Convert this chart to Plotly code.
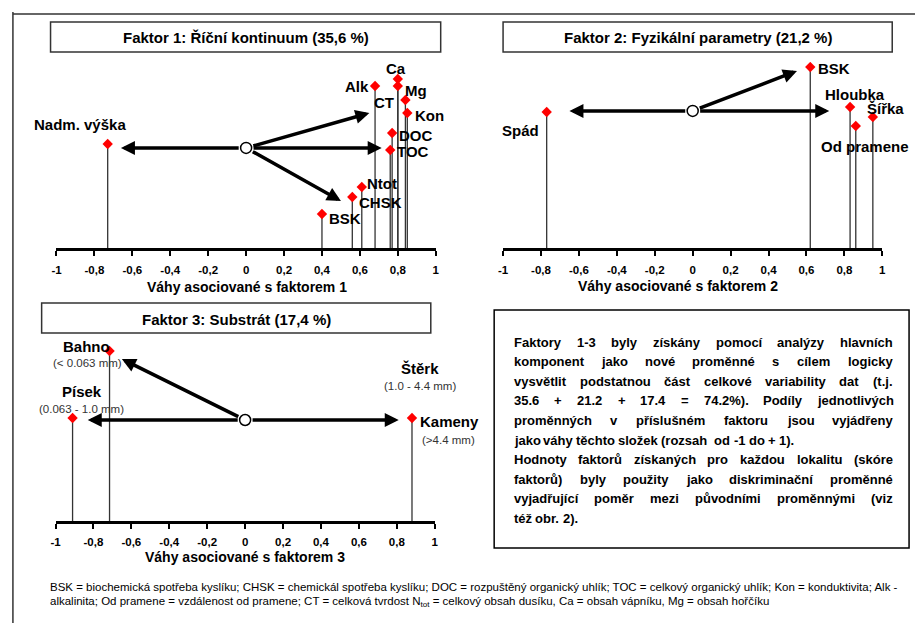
import math
import plotly.graph_objects as go

W, H = 919, 623

# ---------------- data ----------------
TICK_VALUES = [-1, -0.8, -0.6, -0.4, -0.2, 0, 0.2, 0.4, 0.6, 0.8, 1]
TICK_LABELS = ["-1", "-0,8", "-0,6", "-0,4", "-0,2", "0", "0,2", "0,4", "0,6", "0,8", "1"]

F1_TITLE = "Faktor 1: Říční kontinuum (35,6 %)"
F1_AXIS = "Váhy asociované s faktorem 1"
F1_NAMES = ["Nadm. výška", "BSK", "CHSK", "Ntot", "Alk", "Ca", "Mg", "CT", "Kon", "DOC", "TOC"]
F1_LOADINGS = [-0.73, 0.40, 0.56, 0.61, 0.68, 0.80, 0.80, 0.84, 0.85, 0.77, 0.76]
F1_LEVELS = [5.59, 1.83, 2.74, 3.28, 8.71, 9.09, 8.71, 7.96, 7.26, 6.18, 5.27]
F1_ORIGIN_Y = 5.38
F1_ARROW_X = [-0.66, 0.715, 0.65, 0.50]
F1_ARROW_Y = [5.38, 5.38, 7.26, 2.53]

F2_TITLE = "Faktor 2: Fyzikální parametry (21,2 %)"
F2_AXIS = "Váhy asociované s faktorem 2"
F2_NAMES = ["Spád", "BSK", "Hloubka", "Od pramene", "Šířka"]
F2_LOADINGS = [-0.77, 0.62, 0.83, 0.86, 0.95]
F2_LEVELS = [7.31, 9.73, 7.58, 6.56, 7.04]
F2_ORIGIN_Y = 7.37
F2_ARROW_X = [-0.65, 0.72, 0.55]
F2_ARROW_Y = [7.37, 7.37, 9.52]

F3_TITLE = "Faktor 3: Substrát (17,4 %)"
F3_AXIS = "Váhy asociované s faktorem 3"
F3_NAMES = ["Bahno", "Písek", "Kameny"]
F3_SIZES = ["(< 0.063 mm)", "(0.063 - 1.0 mm)", "(>4.4 mm)"]
F3_LOADINGS = [-0.715, -0.91, 0.88]
F3_LEVELS = [9.14, 5.54, 5.54]
F3_EXTRA_NAME = "Štěrk"
F3_EXTRA_SIZE = "(1.0 - 4.4 mm)"
F3_ORIGIN_Y = 5.43
F3_ARROW_X = [-0.83, 0.81, -0.65]
F3_ARROW_Y = [5.43, 5.43, 8.71]

NOTE_LINES = [
    ["Faktory", "1-3", "byly", "získány", "pomocí", "analýzy", "hlavních"],
    ["komponent", "jako", "nové", "proměnné", "s", "cílem", "logicky"],
    ["vysvětlit", "podstatnou", "část", "celkové", "variability", "dat", "(t.j."],
    ["35.6", "+", "21.2", "+", "17.4", "=", "74.2%).", "Podíly", "jednotlivých"],
    ["proměnných", "v", "příslušném", "faktoru", "jsou", "vyjádřeny"],
    ["jako", "váhy", "těchto", "složek", "(rozsah", " od", "-1", "do", "+", "1)."],
    ["Hodnoty", "faktorů", "získaných", "pro", "každou", "lokalitu", "(skóre"],
    ["faktorů)", "byly", "použity", "jako", "diskriminační", "proměnné"],
    ["vyjadřující", "poměr", "mezi", "původními", "proměnnými", "(viz"],
    ["též", "obr.", "2)."],
]
NOTE_JUSTIFIED = [True, True, True, True, True, False, True, True, True, False]

FOOTNOTE = [
    "BSK = biochemická spotřeba kyslíku; CHSK = chemickál spotřeba kyslíku; DOC = rozpuštěný organický uhlík; "
    "TOC = celkový organický uhlík; Kon = konduktivita; Alk -",
    "alkalinita; Od pramene = vzdálenost od pramene; CT = celková tvrdost N<sub>tot</sub> = celkový obsah dusíku, "
    "Ca = obsah vápníku, Mg = obsah hořčíku",
]

# ---------------- styles / layout ----------------
FONT = "Liberation Sans, Arial, sans-serif"
PANELS = {
    1: dict(x0=52, x1=435, y0=62, y1=248, standoff=4),
    2: dict(x0=503, x1=886, y0=62, y1=248, standoff=4),
    3: dict(x0=51, x1=434, y0=335, y1=521, standoff=3),
}
YMAX = 10.0

# label placement: (xanchor, dx px, dy px downward)
F1_LABEL_POS = [("center", -28, -20), ("left", 5, 5), ("left", 5, 5), ("left", 3, -3),
                ("right", -4, 1), ("center", -2, -10), ("left", 5, 5), ("right", -9, 3),
                ("left", 6, 3), ("left", 5, 2), ("left", 5, 2)]
F2_LABEL_POS = [("center", -26, 18), ("left", 6, 1), ("center", 5, -13),
                ("center", 9, 21), ("center", 13, -9)]
F3_LABEL_POS = [("center", -23, -5), ("center", 9, -26), ("left", 6, 4)]
F3_SIZE_POS = [("center", -22, 12), ("center", 9, -9), ("center", 37, 22)]
F3_EXTRA_POS = [("center", 8, -49), ("center", 8, -32)]

TITLE_BOXES = {1: (46, 22, 440, 52, 243, 38), 2: (503, 22, 896, 52, 700, 38), 3: (37, 303, 430, 333, 234, 320)}
AXIS_TITLE_POS = {1: (244, 287), 2: (680, 286), 3: (242, 557)}
NOTE_BOX = (494, 310, 913, 548)
NOTE_LEFT, NOTE_RIGHT, NOTE_TOP, NOTE_STEP = 513, 895, 342, 19.6


def px(x):
    return x / W


def py(y):
    return 1 - y / H


BOLD_W = {' ': 278, '!': 333, '%': 889, '(': 333, ')': 333, '+': 584, ',': 278, '-': 333, '.': 278,
          ':': 333, ';': 333, '=': 584}
for d in "0123456789":
    BOLD_W[d] = 556
BOLD_W.update(dict(zip("ABCDEFGHIJKLMNOPQRSTUVWXYZ",
                       [722, 722, 722, 722, 667, 611, 778, 722, 278, 556, 722, 611, 833, 722, 778, 667,
                        778, 722, 667, 611, 722, 667, 944, 667, 667, 611])))
BOLD_W.update(dict(zip("abcdefghijklmnopqrstuvwxyz",
                       [556, 611, 556, 611, 556, 333, 611, 611, 278, 278, 556, 278, 889, 611, 611, 611,
                        611, 389, 556, 333, 611, 556, 778, 556, 556, 500])))
BASE = dict(zip("áéíóúůýčďěňřšťžŘŠČŽ", "aeiouuycdenrstzRSCZ"))


def bold_width(s, size):
    return sum(BOLD_W.get(BASE.get(c, c), 556) for c in s) * size / 1000.0


fig = go.Figure()
annotations = []
shapes = []

layout_axes = {}
for i, p in PANELS.items():
    sx = "" if i == 1 else str(i)
    layout_axes["xaxis" + sx] = dict(
        domain=[px(p["x0"]), px(p["x1"])], range=[-1, 1], anchor="y" + sx,
        showgrid=False, zeroline=False, showline=True, linecolor="black", linewidth=3,
        ticks="outside", ticklen=5, tickwidth=2, tickcolor="black",
        tickvals=TICK_VALUES, ticktext=["<b>%s</b>" % t for t in TICK_LABELS],
        tickfont=dict(family=FONT, size=11.5, color="black"), ticklabelstandoff=p["standoff"],
        fixedrange=True,
    )
    layout_axes["yaxis" + sx] = dict(
        domain=[py(p["y1"]), py(p["y0"])], range=[0, YMAX], anchor="x" + sx,
        visible=False, fixedrange=True,
    )


def add_panel(i, loadings, levels, origin_y, arrow_x, arrow_y):
    sx = "" if i == 1 else str(i)
    xr, yr = "x" + sx, "y" + sx
    p = PANELS[i]
    kx = (p["x1"] - p["x0"]) / 2.0
    ky = (p["y1"] - p["y0"]) / YMAX
    # stems
    sxs, sys_ = [], []
    for v, h in zip(loadings, levels):
        sxs += [v, v, None]
        sys_ += [0, h, None]
    fig.add_trace(go.Scatter(x=sxs, y=sys_, mode="lines", xaxis=xr, yaxis=yr,
                             line=dict(color="#333333", width=1.3), hoverinfo="skip", showlegend=False))
    fig.add_trace(go.Scatter(x=loadings, y=levels, mode="markers", xaxis=xr, yaxis=yr,
                             marker=dict(symbol="diamond", size=8, color="#ff0000"),
                             showlegend=False))
    # arrows from origin circle edge
    r = 6.0
    for hx, hy in zip(arrow_x, arrow_y):
        dxp, dyp = hx * kx, (hy - origin_y) * ky
        L = math.hypot(dxp, dyp)
        tx = r * dxp / L / kx
        ty = origin_y + r * dyp / L / ky
        annotations.append(dict(x=hx, y=hy, ax=tx, ay=ty, xref=xr, yref=yr, axref=xr, ayref=yr,
                                text="", showarrow=True, arrowhead=2, arrowsize=0.8,
                                arrowwidth=3.5, arrowcolor="black"))
    fig.add_trace(go.Scatter(x=[0], y=[origin_y], mode="markers", xaxis=xr, yaxis=yr,
                             marker=dict(symbol="circle", size=11, color="white",
                                         line=dict(color="black", width=1.5)),
                             showlegend=False))
    return xr, yr


def label(xr, yr, x, y, text, pos, size=15, bold=True, color="black"):
    anchor, dx, dy = pos
    annotations.append(dict(x=x, y=y, xref=xr, yref=yr, text=("<b>%s</b>" % text) if bold else text,
                            showarrow=False, xanchor=anchor, yanchor="middle", xshift=dx, yshift=-dy,
                            font=dict(family=FONT, size=size, color=color)))


xr, yr = add_panel(1, F1_LOADINGS, F1_LEVELS, F1_ORIGIN_Y, F1_ARROW_X, F1_ARROW_Y)
for n, v, h, pos in zip(F1_NAMES, F1_LOADINGS, F1_LEVELS, F1_LABEL_POS):
    label(xr, yr, v, h, n, pos)

xr, yr = add_panel(2, F2_LOADINGS, F2_LEVELS, F2_ORIGIN_Y, F2_ARROW_X, F2_ARROW_Y)
for n, v, h, pos in zip(F2_NAMES, F2_LOADINGS, F2_LEVELS, F2_LABEL_POS):
    label(xr, yr, v, h, n, pos)

xr, yr = add_panel(3, F3_LOADINGS, F3_LEVELS, F3_ORIGIN_Y, F3_ARROW_X, F3_ARROW_Y)
for n, s, v, h, pos, spos in zip(F3_NAMES, F3_SIZES, F3_LOADINGS, F3_LEVELS, F3_LABEL_POS, F3_SIZE_POS):
    label(xr, yr, v, h, n, pos)
    label(xr, yr, v, h, s, spos, size=11.5, bold=False, color="#333333")
label(xr, yr, F3_LOADINGS[2], F3_LEVELS[2], F3_EXTRA_NAME, F3_EXTRA_POS[0])
label(xr, yr, F3_LOADINGS[2], F3_LEVELS[2], F3_EXTRA_SIZE, F3_EXTRA_POS[1], size=11.5, bold=False,
      color="#333333")

# titles
for i, title in zip([1, 2, 3], [F1_TITLE, F2_TITLE, F3_TITLE]):
    x0, y0, x1, y1, cx, cy = TITLE_BOXES[i]
    shapes.append(dict(type="rect", xref="paper", yref="paper", x0=px(x0), x1=px(x1), y0=py(y1), y1=py(y0),
                       line=dict(color="#333333", width=1.5), fillcolor="white", layer="below"))
    annotations.append(dict(x=px(cx), y=py(cy), xref="paper", yref="paper", text="<b>%s</b>" % title,
                            showarrow=False, xanchor="center", yanchor="middle",
                            font=dict(family=FONT, size=15, color="black")))
for i, t in zip([1, 2, 3], [F1_AXIS, F2_AXIS, F3_AXIS]):
    cx, cy = AXIS_TITLE_POS[i]
    annotations.append(dict(x=px(cx), y=py(cy), xref="paper", yref="paper", text="<b>%s</b>" % t,
                            showarrow=False, xanchor="center", yanchor="middle",
                            font=dict(family=FONT, size=14, color="black")))

# note box
bx0, by0, bx1, by1 = NOTE_BOX
shapes.append(dict(type="rect", xref="paper", yref="paper", x0=px(bx0), x1=px(bx1), y0=py(by1), y1=py(by0),
                   line=dict(color="black", width=1.5), layer="below"))
NOTE_SIZE = 13
for li, (words, just) in enumerate(zip(NOTE_LINES, NOTE_JUSTIFIED)):
    yline = NOTE_TOP + li * NOTE_STEP
    widths = [bold_width(w.strip(), NOTE_SIZE) for w in words]
    if just and len(words) > 1:
        gap = (NOTE_RIGHT - NOTE_LEFT - sum(widths)) / (len(words) - 1)
    else:
        gap = bold_width(" ", NOTE_SIZE)
    x = NOTE_LEFT
    for w, wd in zip(words, widths):
        if w.startswith(" "):
            x += bold_width(" ", NOTE_SIZE)
        annotations.append(dict(x=px(x), y=py(yline), xref="paper", yref="paper", text="<b>%s</b>" % w.strip(),
                                showarrow=False, xanchor="left", yanchor="middle", borderpad=0,
                                font=dict(family=FONT, size=NOTE_SIZE, color="black")))
        x += wd + gap

# footnote
for k, line in enumerate(FOOTNOTE):
    annotations.append(dict(x=px(43), y=py(587 + 15 * k), xref="paper", yref="paper", text=line,
                            showarrow=False, xanchor="left", yanchor="middle",
                            font=dict(family=FONT, size=11.5, color="black")))

# frame lines
shapes.append(dict(type="line", xref="paper", yref="paper", x0=px(8), x1=1, y0=py(14), y1=py(14),
                   line=dict(color="#333333", width=1.5)))
shapes.append(dict(type="line", xref="paper", yref="paper", x0=px(8), x1=px(8), y0=py(12), y1=0,
                   line=dict(color="#333333", width=1.5)))

fig.update_layout(width=W, height=H, autosize=False, margin=dict(l=0, r=0, t=0, b=0),
                  paper_bgcolor="white", plot_bgcolor="rgba(0,0,0,0)", showlegend=False,
                  annotations=annotations, shapes=shapes, **layout_axes)
fig.write_html("out.html", config={"displayModeBar": False},
               post_script="document.body.style.margin='0';document.body.style.overflow='hidden';")
